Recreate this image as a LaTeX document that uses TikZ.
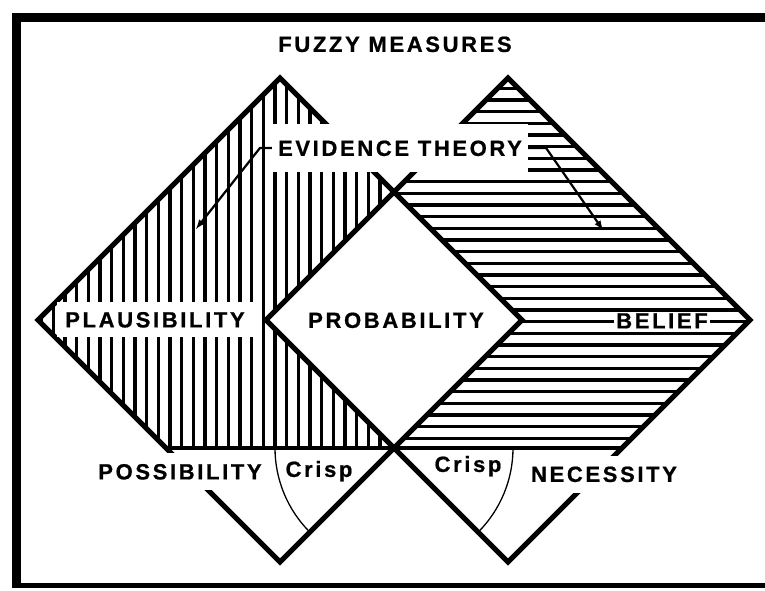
\documentclass[tikz,border=0pt]{standalone}
\usepackage{fontspec}
\newfontfamily\labelfont[LetterSpace=12, FakeBold=0.8]{Liberation Sans Bold}
\begin{document}
\begin{tikzpicture}[x=1pt, y=-1pt, >=latex,
  lbl/.style={font={\labelfont\fontsize{22}{26}\selectfont}, inner sep=0pt, text height=15.8pt, text depth=0pt},
  labelbox/.style={fill=white},
  rim/.style={line width=5pt},
  hatchline/.style={line width=3.3pt},
  pointer/.style={line width=2.2pt},
  crisparc/.style={line width=1.3pt}]
\useasboundingbox (0,0) rectangle (765,590);
% Quadrat links: Mitte (280,320), Quadrat rechts: Mitte (508,320), halbe Diagonale 242
\def\hd{242}
\coordinate (T1) at (280, 78);
\coordinate (L1) at (38, 320);
\coordinate (B1) at (280, 562);
\coordinate (R1) at (522, 320);
\coordinate (T2) at (508, 78);
\coordinate (L2) at (266, 320);
\coordinate (B2) at (508, 562);
\coordinate (R2) at (750, 320);
% Schnitt = Wahrscheinlichkeit
\coordinate (PT) at (394, 192);
\coordinate (PB) at (394, 448);
% Grundlinie
\coordinate (HL) at (166, 448);
\coordinate (HR) at (622, 448);
% Rahmen
\draw[line width=9pt] (16.5,588) -- (16.5,17) -- (765,17);
\draw[line width=4.5pt] (12,585.5) -- (765,585.5);
% Schraffur links (senkrecht)
\begin{scope}
\clip (T1) -- (PT) -- (L2) -- (PB) -- (HL) -- (L1) -- cycle;
\foreach \k in {0,...,40}
  \draw[hatchline] ({6.7+11.67*\k},60) -- ++(0,400);
\end{scope}
% Schraffur rechts (waagerecht)
\begin{scope}
\clip (T2) -- (PT) -- (R1) -- (PB) -- (HR) -- (R2) -- cycle;
\foreach \k in {-2,...,31}
  \draw[hatchline] (250,{100+11.67*\k}) -- ++(520,0);
\end{scope}
% Quadrate und Grundlinie
\draw[rim] (T1) -- (R1) -- (B1) -- (L1) -- cycle;
\draw[rim] (T2) -- (R2) -- (B2) -- (L2) -- cycle;
\draw[line width=4.5pt] (HL) -- (HR);
% Boegen um den Kreuzungspunkt
\draw[crisparc] (PB) ++(-119,0) arc[start angle=180, end angle=135, radius=119];
\draw[crisparc] (PB) ++(119,0) arc[start angle=0, end angle=45, radius=119];
% Beschriftungen
\node[lbl] (fuzzy) at (395, 44) {FUZZY MEASURES};
\node[lbl, labelbox, inner xsep=6pt, inner ysep=16pt] (evid) at (400, 148) {EVIDENCE THEORY};
\node[lbl, labelbox, inner xsep=8pt, inner ysep=9.6pt] (plaus) at (155, 319.5) {PLAUSIBILITY};
\node[lbl] (prob) at (396, 320) {PROBABILITY};
\node[lbl, labelbox, inner xsep=2pt, inner ysep=0.5pt] (belief) at (662, 320.5) {BELIEF};
\node[lbl, labelbox, inner xsep=6pt, inner ysep=10.6pt] (poss) at (180, 471.5) {POSSIBILITY};
\node[lbl, labelbox, inner xsep=6pt, inner ysep=10.6pt] (nec) at (604, 474) {NECESSITY};
\node[lbl] (crispl) at (319, 469) {Crisp};
\node[lbl] (crispr) at (468, 464) {Crisp};
% Hinweislinien von EVIDENCE THEORY
\coordinate (plend) at (196, 229);
\coordinate (belend) at (603, 230);
\draw[pointer, ->] (evid.west) -- ++(-12,0) -- (plend);
\draw[pointer, ->] (evid.east) -- ++(18,0) -- (belend);
\end{tikzpicture}
\end{document}
